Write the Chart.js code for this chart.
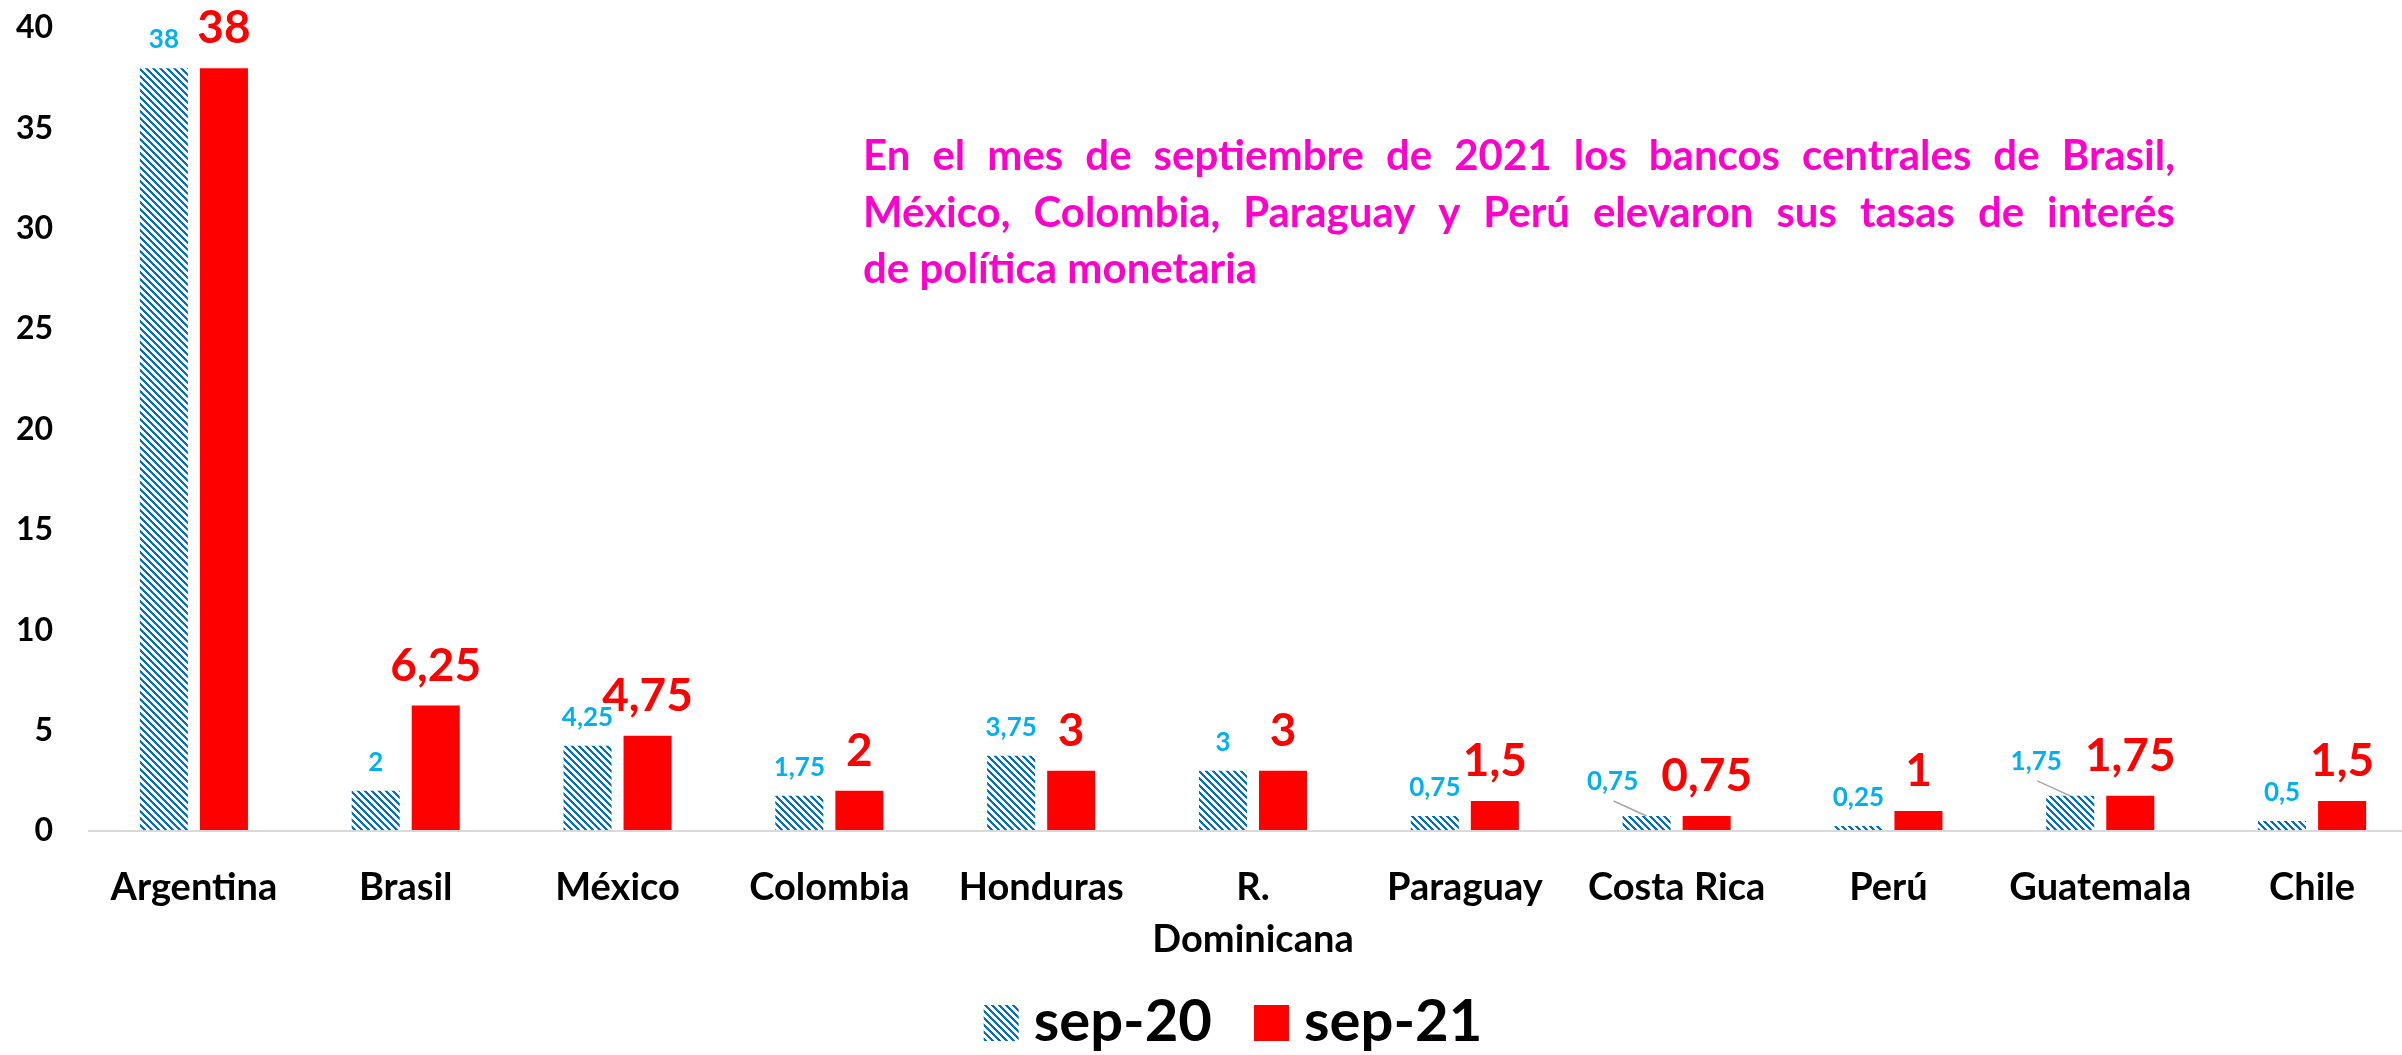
<!DOCTYPE html>
<html>
<head>
<meta charset="utf-8">
<script src="https://cdn.jsdelivr.net/npm/chart.js@4.4.1/dist/chart.umd.min.js"></script>
<style>
  html, body { margin: 0; padding: 0; background: #fff; overflow: hidden; }
  #wrap { position: absolute; left: 0; top: 0; width: 2418px; height: 1055px; }
</style>
</head>
<body>
<div id="wrap"><canvas id="tasasChart"></canvas></div>
<script>
// datos: tasas de politica monetaria (%)
const countries = ['Argentina', 'Brasil', 'México', 'Colombia', 'Honduras', ['R.', 'Dominicana'],
  'Paraguay', 'Costa Rica', 'Perú', 'Guatemala', 'Chile'];
const sep20 = [38, 2, 4.25, 1.75, 3.75, 3, 0.75, 0.75, 0.25, 1.75, 0.5];
const sep21 = [38, 6.25, 4.75, 2, 3, 3, 1.5, 0.75, 1, 1.75, 1.5];
const seriesNames = ['sep-20', 'sep-21'];
const yTicks = [0, 5, 10, 15, 20, 25, 30, 35, 40];

const note = [
  'En el mes de septiembre de 2021 los bancos centrales de Brasil,',
  'México, Colombia, Paraguay y Perú elevaron sus tasas de interés',
  'de política monetaria'
];

// labels with a leader line (sep-20 series)
const leaderIdx = [7, 9];

const FONT = 'Lato, "Open Sans", sans-serif';
Chart.defaults.font.family = FONT;

const canvas = document.getElementById('tasasChart');
const ctx0 = canvas.getContext('2d');

// diagonal hatch like the excel pattern
function makeHatch() {
  const c = document.createElement('canvas');
  c.width = 7; c.height = 7;
  const g = c.getContext('2d');
  g.fillStyle = '#ffffff';
  g.fillRect(0, 0, 7, 7);
  g.fillStyle = '#0070C0';
  for (let y = 0; y < 7; y++) {
    for (let x = 0; x < 7; x++) {
      if ((((x - y) % 7) + 7) % 7 < 3) g.fillRect(x, y, 1, 1);
    }
  }
  return ctx0.createPattern(c, 'repeat');
}
const hatch = makeHatch();

const fmt = v => String(v).replace('.', ',');

const valueLabels = {
  id: 'valueLabels',
  afterDatasetsDraw(chart) {
    const ctx = chart.ctx;
    const styles = [
      { color: '#00B0F0', size: 26, gap: 20 },
      { color: '#FF0000', size: 46, gap: 25 }
    ];
    chart.data.datasets.forEach((ds, di) => {
      const st = styles[di];
      chart.getDatasetMeta(di).data.forEach((bar, i) => {
        let lx = bar.x, ly = bar.y - st.gap;
        ctx.save();
        if (di === 0 && leaderIdx.includes(i)) {
          lx = bar.x - 34;
          ly = bar.y - 26;
          ctx.strokeStyle = '#A6A6A6';
          ctx.lineWidth = 1.5;
          ctx.beginPath();
          ctx.moveTo(lx + 1, ly + 11);
          ctx.lineTo(bar.x, bar.y);
          ctx.stroke();
        }
        ctx.font = 'bold ' + st.size + 'px ' + FONT;
        ctx.fillStyle = st.color;
        ctx.textAlign = 'center';
        ctx.textBaseline = 'alphabetic';
        ctx.fillText(fmt(ds.data[i]), lx, ly);
        ctx.restore();
      });
    });
  }
};

const noteAndLegend = {
  id: 'noteAndLegend',
  afterDraw(chart) {
    const ctx = chart.ctx;
    ctx.save();
    // annotation, justified
    ctx.font = 'bold 42px ' + FONT;
    ctx.fillStyle = '#FF00CC';
    ctx.textBaseline = 'alphabetic';
    ctx.textAlign = 'left';
    const left = 863, width = 1312, base = [170, 227, 283];
    note.forEach((line, k) => {
      if (k === note.length - 1) { ctx.fillText(line, left, base[k]); return; }
      const words = line.split(' ');
      const ww = words.map(w => ctx.measureText(w).width);
      const gap = (width - ww.reduce((a, b) => a + b, 0)) / (words.length - 1);
      let x = left;
      words.forEach((w, j) => { ctx.fillText(w, x, base[k]); x += ww[j] + gap; });
    });

    // legend
    ctx.font = 'bold 58px ' + FONT;
    ctx.fillStyle = '#000';
    const sw = 35, sh = 36, g1 = 15, g2 = 42;
    const tw = seriesNames.map(s => ctx.measureText(s).width);
    const total = sw + g1 + tw[0] + g2 + sw + g1 + tw[1];
    let x = 1233 - total / 2;
    const baseY = 1041;
    chart.data.datasets.forEach((ds, i) => {
      ctx.fillStyle = ds.backgroundColor;
      ctx.fillRect(x, baseY - sh, sw, sh);
      x += sw + g1;
      ctx.fillStyle = '#000';
      ctx.fillText(seriesNames[i], x, baseY);
      x += tw[i] + g2;
    });
    ctx.restore();
  }
};

new Chart(canvas, {
  type: 'bar',
  data: {
    labels: countries,
    datasets: [{
      label: seriesNames[0],
      data: sep20,
      backgroundColor: hatch,
      categoryPercentage: 0.567,
      barPercentage: 0.8
    }, {
      label: seriesNames[1],
      data: sep21,
      backgroundColor: '#FF0000',
      categoryPercentage: 0.567,
      barPercentage: 0.8
    }]
  },
  options: {
    responsive: true,
    maintainAspectRatio: false,
    animation: false,
    layout: { padding: { top: 28, left: 0, right: 0, bottom: 0 } },
    plugins: {
      legend: { display: false },
      tooltip: { enabled: false }
    },
    scales: {
      x: {
        grid: { display: false },
        border: { display: false },
        ticks: {
          color: '#000',
          font: { size: 38, weight: 'bold', lineHeight: 1.37 },
          padding: 23,
          autoSkip: false,
          maxRotation: 0
        },
        afterFit: s => { s.height = 224; }
      },
      y: {
        min: 0,
        max: 40,
        afterBuildTicks: s => { s.ticks = yTicks.map(v => ({ value: v })); },
        grid: {
          drawTicks: false,
          lineWidth: 2,
          color: c => (c.tick && c.tick.value === 0 ? '#D9D9D9' : 'rgba(0,0,0,0)')
        },
        border: { display: false },
        ticks: {
          color: '#000',
          font: { size: 32, weight: 'bold' },
          padding: 35
        },
        afterFit: s => { s.width = 88; s.paddingTop = 0; s.paddingBottom = 0; }
      }
    }
  },
  plugins: [valueLabels, noteAndLegend]
});
</script>
</body>
</html>
